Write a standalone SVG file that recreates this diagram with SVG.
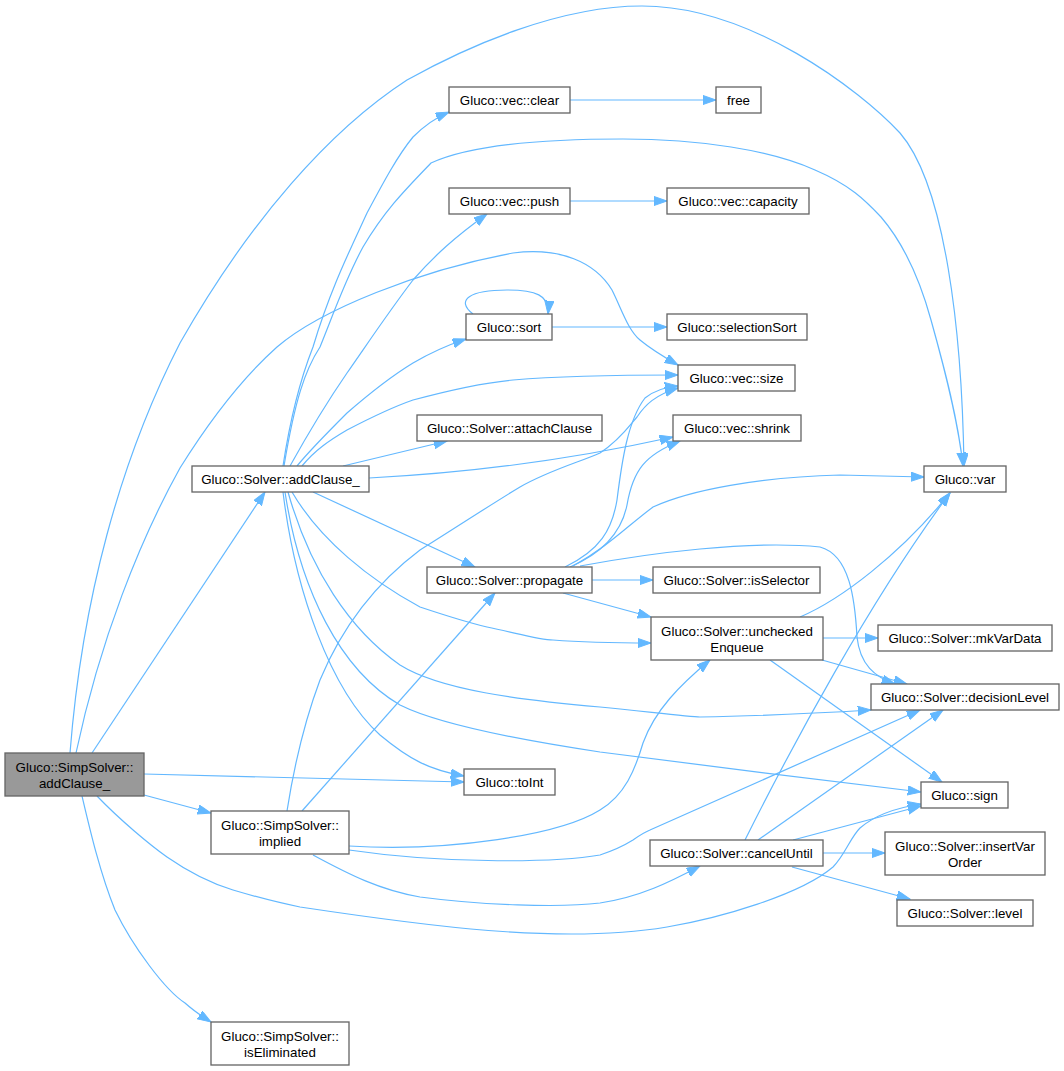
<svg xmlns="http://www.w3.org/2000/svg" width="1064" height="1071" viewBox="0 0 1064 1071">
<defs>
<style>
.n rect{fill:#ffffff;stroke:#666666;stroke-width:1.33}
.n.root rect{fill:#999999}
.n text{font-family:"Liberation Sans",Arial,Helvetica,sans-serif;font-size:13.33px;fill:#000000;text-anchor:middle}
.e path{fill:none;stroke:#63b8ff;stroke-width:1.2;marker-end:url(#ah)}
</style>
<marker id="ah" markerUnits="userSpaceOnUse" markerWidth="14" markerHeight="10" refX="13.3" refY="4.65" orient="auto">
<path d="M0,0 L13.3,4.65 L0,9.3 z" fill="#63b8ff" stroke="#63b8ff" stroke-width="1"/>
</marker>
</defs>
<rect width="1064" height="1071" fill="#ffffff"/>
<g id="edges" class="e">
<path d="M92,753 L265,492"/>
<path d="M70,753 C82,600 120,460 180,343 C250,220 330,130 407,80 C470,45 560,6 642,6 C750,6 860,90 900,133 C945,185 962,330 964,466"/>
<path d="M76,753 C100,640 140,540 180,468 C210,420 240,380 277,347 C320,310 420,270 513,253 C560,247 595,262 612,290 C622,310 628,330 640,340 C652,350 664,357 678,365"/>
<path d="M144,774 L464,782"/>
<path d="M144,795 L211,813"/>
<path d="M97,796 C120,820 150,845 167,857 C190,873 210,883 233,890 C260,898 280,903 300,907 C420,925 560,945 667,927 C720,918 800,895 833,867 C845,855 850,838 860,828 C875,815 895,808 921,804"/>
<path d="M82,796 C90,830 100,873 115,910 C133,947 165,990 185,1003 C195,1012 203,1017 211,1022"/>
<path d="M283,466 C290,420 300,380 313,347 C330,290 350,250 367,213 C383,183 398,155 413,137 C425,125 435,118 449,112"/>
<path d="M284,466 C295,400 305,370 320,347 C335,310 345,280 363,247 C385,210 405,190 431,163 C470,145 540,139 623,139 C700,139 770,150 815,170 C850,185 865,200 881,217 C905,245 920,280 931,320 C945,370 958,420 963,466"/>
<path d="M290,466 C310,430 325,405 347,373 C370,340 390,310 413,280 C435,255 455,237 487,214"/>
<path d="M297,466 C310,450 330,430 347,413 C370,393 390,377 413,363 C430,353 445,346 466,339"/>
<path d="M302,466 C315,450 330,440 347,430 C370,418 390,408 413,400 C450,390 480,383 513,380 C560,376 600,375 678,375"/>
<path d="M343,466 L447,441"/>
<path d="M369,478 C450,474 560,462 673,437"/>
<path d="M313,492 L475,567"/>
<path d="M292,492 C320,540 370,580 420,607 C450,617 470,623 487,627 C520,634 540,640 553,640 C590,643 620,643 651,643"/>
<path d="M288,492 C310,570 350,630 400,665 C440,690 520,700 600,707 C650,712 690,717 700,717 C760,716 820,713 871,710"/>
<path d="M283,492 C295,590 330,690 380,735 C410,760 430,770 464,776"/>
<path d="M285,492 C300,590 340,670 400,705 C440,725 520,740 600,752 C700,765 820,780 921,792"/>
<path d="M287,811 C295,760 305,720 320,680 C345,620 380,580 420,550 C460,525 490,505 520,487 C550,470 580,462 600,453 C620,440 630,425 637,417 C645,405 655,395 678,388"/>
<path d="M302,811 L495,593"/>
<path d="M349,846 C450,852 560,835 600,810 C625,795 635,770 643,743 C655,710 680,685 710,660"/>
<path d="M349,850 C450,865 560,862 600,855 C615,850 625,845 633,840 C640,835 645,832 650,830 L920,710"/>
<path d="M313,855 C350,875 380,890 420,897 C480,905 560,908 600,903 C640,897 670,882 700,866"/>
<path d="M592,580 L653,580"/>
<path d="M563,593 L651,617"/>
<path d="M565,567 C600,550 612,530 617,500 C622,460 628,420 645,398 C655,390 665,387 678,386"/>
<path d="M570,567 C605,552 622,530 627,505 C633,470 645,455 680,441"/>
<path d="M573,566 C610,545 625,528 653,507 C690,490 760,477 840,475 L924,477"/>
<path d="M580,566 C650,553 750,540 820,547 C850,555 855,600 857,637 C860,665 875,677 895,684"/>
<path d="M823,638 L878,638"/>
<path d="M822,660 L907,684"/>
<path d="M770,660 L942,782"/>
<path d="M800,617 C840,600 900,555 950,493"/>
<path d="M745,840 C790,750 870,600 950,493"/>
<path d="M758,840 L943,710"/>
<path d="M793,840 L921,806"/>
<path d="M823,853 L885,853"/>
<path d="M792,867 L910,899"/>
<path d="M570,100 L716,100"/>
<path d="M570,201 L667,201"/>
<path d="M552,327 L667,327"/>
<path d="M473,314 C455,300 470,290 507,290 C535,290 550,295 548,314"/>
</g>
<g id="n_simp_addClause" class="n root"><rect x="5" y="753" width="139" height="43"/><text x="74.5" y="772">Gluco::SimpSolver::</text><text x="74.5" y="788">addClause_</text></g>
<g id="n_solver_addClause" class="n"><rect x="192" y="466" width="177" height="26"/><text x="280.5" y="483.5">Gluco::Solver::addClause_</text></g>
<g id="n_clear" class="n"><rect x="449" y="87" width="121" height="26"/><text x="509.5" y="104.5">Gluco::vec::clear</text></g>
<g id="n_free" class="n"><rect x="716" y="87" width="45" height="26"/><text x="738.5" y="104.5">free</text></g>
<g id="n_push" class="n"><rect x="449" y="188" width="121" height="26"/><text x="509.5" y="205.5">Gluco::vec::push</text></g>
<g id="n_capacity" class="n"><rect x="667" y="188" width="142" height="26"/><text x="738" y="205.5">Gluco::vec::capacity</text></g>
<g id="n_sort" class="n"><rect x="466" y="314" width="86" height="26"/><text x="509" y="331.5">Gluco::sort</text></g>
<g id="n_selectionSort" class="n"><rect x="667" y="314" width="140" height="26"/><text x="737" y="331.5">Gluco::selectionSort</text></g>
<g id="n_size" class="n"><rect x="678" y="365" width="117" height="26"/><text x="736.5" y="382.5">Gluco::vec::size</text></g>
<g id="n_attachClause" class="n"><rect x="417" y="415" width="185" height="26"/><text x="509.5" y="432.5">Gluco::Solver::attachClause</text></g>
<g id="n_shrink" class="n"><rect x="673" y="415" width="128" height="26"/><text x="737" y="432.5">Gluco::vec::shrink</text></g>
<g id="n_var" class="n"><rect x="924" y="466" width="82" height="26"/><text x="965" y="483.5">Gluco::var</text></g>
<g id="n_propagate" class="n"><rect x="427" y="567" width="165" height="26"/><text x="509.5" y="584.5">Gluco::Solver::propagate</text></g>
<g id="n_isSelector" class="n"><rect x="653" y="567" width="167" height="26"/><text x="736.5" y="584.5">Gluco::Solver::isSelector</text></g>
<g id="n_uncheckedEnqueue" class="n"><rect x="651" y="617" width="172" height="43"/><text x="737" y="636">Gluco::Solver::unchecked</text><text x="737" y="652">Enqueue</text></g>
<g id="n_mkVarData" class="n"><rect x="878" y="625" width="174" height="26"/><text x="965" y="642.5">Gluco::Solver::mkVarData</text></g>
<g id="n_decisionLevel" class="n"><rect x="871" y="684" width="188" height="26"/><text x="965" y="701.5">Gluco::Solver::decisionLevel</text></g>
<g id="n_toInt" class="n"><rect x="464" y="769" width="91" height="26"/><text x="509.5" y="786.5">Gluco::toInt</text></g>
<g id="n_sign" class="n"><rect x="921" y="782" width="87" height="26"/><text x="964.5" y="799.5">Gluco::sign</text></g>
<g id="n_implied" class="n"><rect x="211" y="811" width="138" height="43"/><text x="280" y="830">Gluco::SimpSolver::</text><text x="280" y="846">implied</text></g>
<g id="n_cancelUntil" class="n"><rect x="650" y="840" width="173" height="26"/><text x="736.5" y="857.5">Gluco::Solver::cancelUntil</text></g>
<g id="n_insertVarOrder" class="n"><rect x="885" y="832" width="160" height="43"/><text x="965" y="851">Gluco::Solver::insertVar</text><text x="965" y="867">Order</text></g>
<g id="n_level" class="n"><rect x="897" y="900" width="136" height="26"/><text x="965" y="917.5">Gluco::Solver::level</text></g>
<g id="n_isEliminated" class="n"><rect x="211" y="1022" width="138" height="43"/><text x="280" y="1041">Gluco::SimpSolver::</text><text x="280" y="1057">isEliminated</text></g>
</svg>
